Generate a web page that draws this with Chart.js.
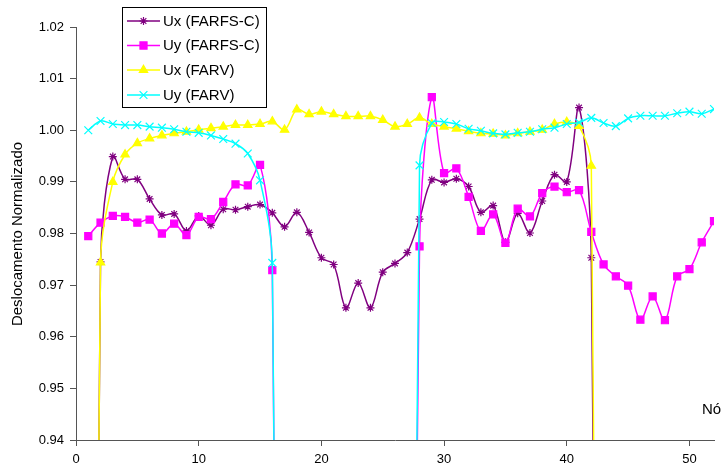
<!DOCTYPE html>
<html>
<head>
<meta charset="utf-8">
<script src="https://cdn.jsdelivr.net/npm/chart.js@4/dist/chart.umd.min.js"></script>
<style>
  html, body { margin: 0; padding: 0; background: #fff; }
  #wrap { width: 723px; height: 470px; position: relative; }
</style>
</head>
<body>
<div id="wrap"><canvas id="c" width="723" height="470"></canvas></div>
<script>
// ---- data ----
const nodes = [1,2,3,4,5,6,7,8,9,10,11,12,13,14,15,16,17,18,19,20,21,22,23,24,25,26,
               27,28,29,30,31,32,33,34,35,36,37,38,39,40,41,42,43,44,45,46,47,48,49,50,51,52];

// values below 0.94 are off the chart; they are estimated from the slope of the drop lines
const uxFarfsC = [0.65, 0.9745, 0.9949, 0.9905, 0.9905, 0.9867, 0.9836, 0.9838, 0.9805, 0.9834,
  0.9816, 0.9847, 0.9846, 0.9852, 0.9856, 0.9840, 0.9813, 0.9841, 0.9802, 0.9753,
  0.9740, 0.9656, 0.9704, 0.9656, 0.9725, 0.9742, 0.9763, 0.9828, 0.9904, 0.9899,
  0.9906, 0.9891, 0.9841, 0.9854, 0.9783, 0.9839, 0.9801, 0.9863, 0.9914, 0.9900,
  1.0044, 0.9753, 0.66, null, null, null, null, null, null, null, null, null];

const uyFarfsC = [0.9795, 0.9821, 0.9834, 0.9832, 0.9821, 0.9827, 0.9800, 0.9819, 0.9797, 0.9832,
  0.9828, 0.9861, 0.9895, 0.9893, 0.9933, 0.9729, 0.65, null, null, null,
  null, null, null, null, null, null, 0.72, 0.9775, 1.0064, 0.9917,
  0.9926, 0.9871, 0.9805, 0.9837, 0.9782, 0.9848, 0.9833, 0.9878, 0.9891, 0.9880,
  0.9884, 0.9803, 0.9740, 0.9717, 0.9699, 0.9633, 0.9678, 0.9632, 0.9717, 0.9731,
  0.9783, 0.9824];

const uxFarv = [0.65, 0.9744, 0.9900, 0.9953, 0.9975, 0.9984, 0.9990, 0.9994, 0.9997, 1.0001,
  1.0004, 1.0007, 1.0010, 1.0010, 1.0012, 1.0017, 1.0001, 1.0040, 1.0031, 1.0036,
  1.0031, 1.0027, 1.0027, 1.0027, 1.0020, 1.0007, 1.0012, 1.0024, 1.0012, 1.0007,
  1.0003, 0.9998, 0.9994, 0.9993, 0.9990, 0.9994, 0.9997, 1.0001, 1.0012, 1.0016,
  1.0008, 0.9931, 0.64, null, null, null, null, null, null, null, null, null];

const uyFarv = [1.0000, 1.0018, 1.0012, 1.0010, 1.0010, 1.0007, 1.0005, 1.0002, 0.9997, 0.9995,
  0.9990, 0.9983, 0.9974, 0.9955, 0.9903, 0.9743, 0.65, null, null, null,
  null, null, null, null, null, null, 0.68, 0.9932, 1.0014, 1.0016,
  1.0012, 1.0003, 0.9999, 0.9994, 0.9992, 0.9995, 0.9997, 1.0002, 1.0005, 1.0012,
  1.0015, 1.0024, 1.0014, 1.0008, 1.0023, 1.0028, 1.0028, 1.0028, 1.0033, 1.0036,
  1.0032, 1.0041];

const seriesNames = ['Ux (FARFS-C)', 'Uy (FARFS-C)', 'Ux (FARV)', 'Uy (FARV)'];
const xTicks = [0, 10, 20, 30, 40, 50];
const yTicks = [0.94, 0.95, 0.96, 0.97, 0.98, 0.99, 1.00, 1.01, 1.02];
const xTitle = 'Nó';
const yTitle = 'Deslocamento Normalizado';

// ---- styles ----
const FONT = "'Liberation Sans', Arial, sans-serif";
const styles = [
  { color: '#800080', point: 'star',     radius: 4,   fill: '#800080' },
  { color: '#FF00FF', point: 'rect',     radius: 5,   fill: '#FF00FF' },
  { color: '#FFFF00', point: 'triangle', radius: 4.8, fill: '#FFFF00' },
  { color: '#00FFFF', point: 'crossRot', radius: 5.5, fill: '#00FFFF' }
];
const seriesValues = [uxFarfsC, uyFarfsC, uxFarv, uyFarv];

const datasets = seriesValues.map((vals, i) => ({
  label: seriesNames[i],
  data: nodes.map((n, k) => ({ x: n, y: vals[k] })),
  borderColor: styles[i].color,
  backgroundColor: styles[i].fill,
  pointBackgroundColor: styles[i].fill,
  pointBorderColor: styles[i].color,
  pointStyle: styles[i].point,
  pointRadius: styles[i].radius,
  pointBorderWidth: 1.2,
  borderWidth: 1.5,
  tension: 0.35,
  fill: false,
  spanGaps: false,
  order: 3 - i
}));

function drawMarker(ctx, style, x, y, r) {
  ctx.save();
  ctx.strokeStyle = style.color;
  ctx.fillStyle = style.fill;
  ctx.lineWidth = 1.2;
  ctx.beginPath();
  if (style.point === 'rect') {
    const s = r * Math.SQRT1_2;
    ctx.rect(x - s, y - s, 2 * s, 2 * s);
    ctx.fill(); ctx.stroke();
  } else if (style.point === 'triangle') {
    ctx.moveTo(x, y - r);
    ctx.lineTo(x + r * Math.cos(Math.PI / 6), y + r / 2);
    ctx.lineTo(x - r * Math.cos(Math.PI / 6), y + r / 2);
    ctx.closePath();
    ctx.fill(); ctx.stroke();
  } else if (style.point === 'crossRot') {
    const o = r * Math.SQRT1_2;
    ctx.moveTo(x - o, y - o); ctx.lineTo(x + o, y + o);
    ctx.moveTo(x - o, y + o); ctx.lineTo(x + o, y - o);
    ctx.stroke();
  } else if (style.point === 'star') {
    const o = r * Math.SQRT1_2;
    ctx.moveTo(x, y - r); ctx.lineTo(x, y + r);
    ctx.moveTo(x - r, y); ctx.lineTo(x + r, y);
    ctx.moveTo(x - o, y - o); ctx.lineTo(x + o, y + o);
    ctx.moveTo(x - o, y + o); ctx.lineTo(x + o, y - o);
    ctx.stroke();
  }
  ctx.restore();
}

const decorations = {
  id: 'decorations',
  afterDraw(chart) {
    const ctx = chart.ctx;
    // y axis title
    ctx.save();
    ctx.fillStyle = '#000';
    ctx.font = '15px ' + FONT;
    ctx.textAlign = 'center';
    ctx.textBaseline = 'middle';
    ctx.translate(18, 234);
    ctx.rotate(-Math.PI / 2);
    ctx.fillText(yTitle, 0, 0);
    ctx.restore();
    // x axis title
    ctx.save();
    ctx.fillStyle = '#000';
    ctx.font = '15px ' + FONT;
    ctx.textAlign = 'left';
    ctx.textBaseline = 'middle';
    ctx.fillText(xTitle, 702, 410);
    ctx.restore();
    // legend
    const bx = 122, by = 7, bw = 144, bh = 100;
    ctx.save();
    ctx.fillStyle = '#fff';
    ctx.fillRect(bx, by, bw, bh);
    ctx.strokeStyle = '#000';
    ctx.lineWidth = 1;
    ctx.strokeRect(bx + 0.5, by + 0.5, bw, bh);
    const rows = [21, 45.5, 70, 95];
    ctx.font = '15px ' + FONT;
    ctx.textAlign = 'left';
    ctx.textBaseline = 'middle';
    seriesNames.forEach((name, i) => {
      const y = rows[i];
      ctx.strokeStyle = styles[i].color;
      ctx.lineWidth = 1.5;
      ctx.beginPath();
      ctx.moveTo(127, y); ctx.lineTo(160, y); ctx.stroke();
      drawMarker(ctx, styles[i], 143.5, y, styles[i].radius);
      ctx.fillStyle = '#000';
      ctx.fillText(name, 163, y + 0.5);
    });
    ctx.restore();
  }
};

new Chart(document.getElementById('c'), {
  type: 'line',
  data: { datasets },
  options: {
    responsive: false,
    devicePixelRatio: 1,
    animation: false,
    events: [],
    layout: { padding: { left: 0, right: 9, top: 27, bottom: 0 } },
    plugins: { legend: { display: false }, tooltip: { enabled: false }, title: { display: false } },
    elements: { line: { capBezierPoints: true } },
    scales: {
      x: {
        type: 'linear',
        min: 0, max: 52,
        afterBuildTicks(scale) { scale.ticks = xTicks.map(v => ({ value: v })); },
        afterFit(scale) { scale.height = 30; },
        grid: { display: true, drawOnChartArea: false, drawTicks: true, tickLength: 6, color: '#555', lineWidth: 1 },
        border: { display: true, color: '#555', width: 1 },
        ticks: { color: '#000', font: { family: FONT, size: 13 }, padding: 6, maxRotation: 0, autoSkip: false,
                 callback: v => String(v) }
      },
      y: {
        type: 'linear',
        min: 0.94, max: 1.02,
        afterBuildTicks(scale) { scale.ticks = yTicks.map(v => ({ value: v })); },
        afterFit(scale) { scale.width = 76; },
        grid: { display: true, drawOnChartArea: false, drawTicks: true, tickLength: 6, color: '#555', lineWidth: 1 },
        border: { display: true, color: '#555', width: 1 },
        ticks: { color: '#000', font: { family: FONT, size: 13 }, padding: 6, autoSkip: false,
                 callback: v => Number(v).toFixed(2) }
      }
    }
  },
  plugins: [decorations]
});
</script>
</body>
</html>
